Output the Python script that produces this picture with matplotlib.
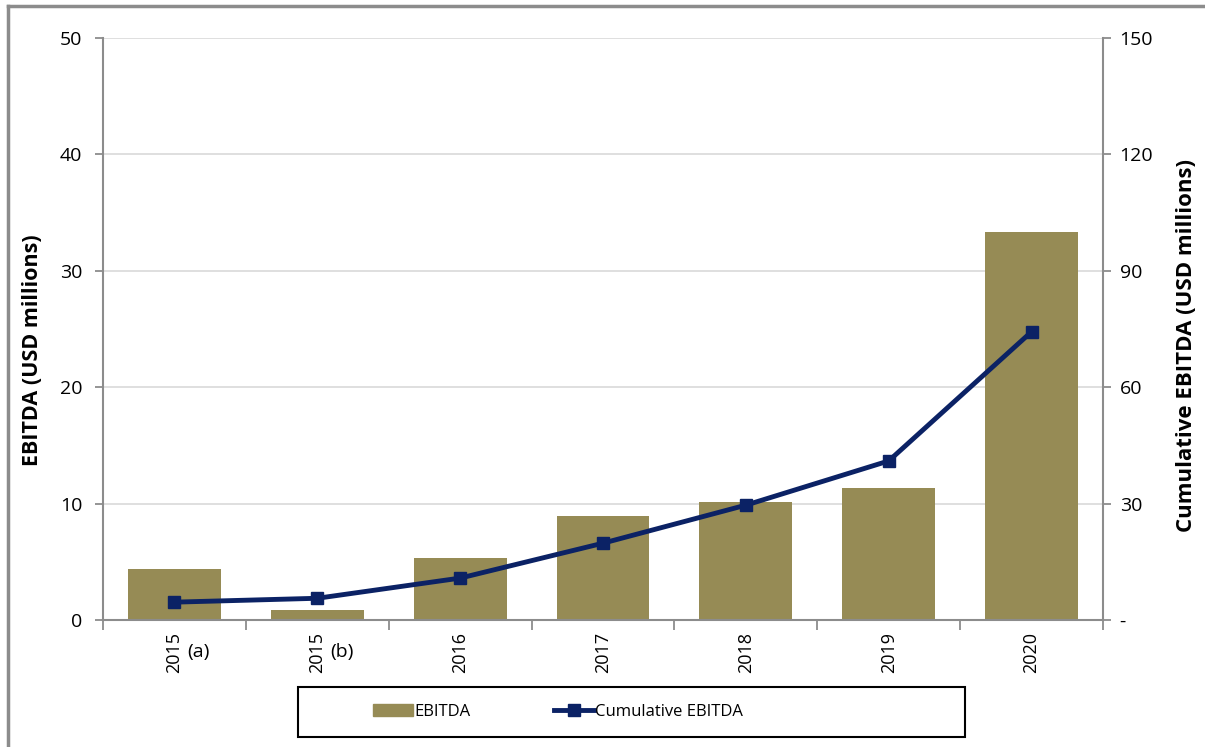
import matplotlib.pyplot as plt
from matplotlib.lines import Line2D
from matplotlib.patches import Rectangle
import numpy as np

categories = ['2015 (a)', '2015 (b)', '2016', '2017', '2018', '2019', '2020']
ebitda = [4.4, 0.9, 5.3, 8.9, 10.1, 11.3, 33.3]
cumulative = [4.6, 5.6, 10.8, 19.8, 29.6, 41.0, 74.3]

plt.rcParams['font.family'] = ['Open Sans', 'DejaVu Sans']

W, H = 1205, 747
fig = plt.figure(figsize=(W / 100, H / 100), dpi=100)
ax = fig.add_axes([103 / W, 1 - 620 / H, 1000 / W, 582 / H])
ax2 = ax.twinx()

x = np.arange(len(categories))
bar_col = '#968b55'
line_col = '#0b2265'
grey = '#8c8c8c'

ax.bar(x, ebitda, width=0.65, color=bar_col, zorder=2)
ax.set_xlim(-0.5, len(categories) - 0.5)
ax.set_ylim(0, 50)
ax.set_yticks(range(0, 51, 10))
ax.grid(axis='y', color='#d9d9d9', linewidth=1.2, zorder=0)
ax.set_axisbelow(True)

ax2.plot(x, cumulative, color=line_col, linewidth=3.5, marker='s', markersize=8, zorder=3)
ax2.set_ylim(0, 150)
ax2.set_yticks(range(0, 151, 30))
ax2.set_yticklabels(['-'] + [str(v) for v in range(30, 151, 30)])

# x ticks at category boundaries, labels rotated
ax.set_xticks(np.arange(-0.5, len(categories), 1.0))
ax.set_xticklabels([])
ax.tick_params(axis='x', length=7, color=grey, width=1.3)
for i, c in enumerate(categories):
    parts = c.split(' ')
    ax.text(i, -0.02, parts[0], transform=ax.get_xaxis_transform(), rotation=90,
            ha='center', va='top', fontsize=13)
    if len(parts) > 1:
        ax.text(i + 0.09, -0.04, parts[1], transform=ax.get_xaxis_transform(),
                ha='left', va='top', fontsize=14)

for a in (ax, ax2):
    for s in a.spines.values():
        s.set_visible(False)
ax.spines['left'].set_visible(True)
ax.spines['bottom'].set_visible(True)
ax2.spines['right'].set_visible(True)
for s in (ax.spines['left'], ax.spines['bottom'], ax2.spines['right']):
    s.set_color(grey)
    s.set_linewidth(1.5)

ax.tick_params(axis='y', length=6, color=grey, width=1.3, labelsize=14, pad=9)
ax2.tick_params(axis='y', length=6, color=grey, width=1.3, labelsize=14, pad=6)

ax.set_ylabel('EBITDA (USD millions)', fontsize=15.5, fontweight='bold', labelpad=12)
ax2.set_ylabel('Cumulative EBITDA (USD millions)', fontsize=16, fontweight='bold', labelpad=16)
ax.yaxis.label.set_y(0.464)
ax2.yaxis.label.set_y(0.472)

# legend box drawn separately, entries without frame
fig.add_artist(Rectangle((298 / W, 1 - 737 / H), 667 / W, 50 / H, fill=False,
                         edgecolor='black', linewidth=1.5, transform=fig.transFigure))
handles = [
    plt.Rectangle((0, 0), 1, 1, color=bar_col),
    Line2D([], [], color=line_col, linewidth=3.5, marker='s', markersize=8),
]
fig.legend(handles, ['EBITDA', 'Cumulative EBITDA'], loc='center',
           bbox_to_anchor=(558 / W, 1 - 712 / H), ncol=2, frameon=False,
           fontsize=12, handlelength=2.4, columnspacing=5.0, handletextpad=0.1)

# outer chart frame (top and left edges)
fig.add_artist(Line2D([8 / W, 1], [1 - 6 / H, 1 - 6 / H], color=grey, linewidth=2.5,
                      transform=fig.transFigure))
fig.add_artist(Line2D([8 / W, 8 / W], [0, 1 - 6 / H], color=grey, linewidth=2.5,
                      transform=fig.transFigure))

fig.savefig('out.png', dpi=100)
